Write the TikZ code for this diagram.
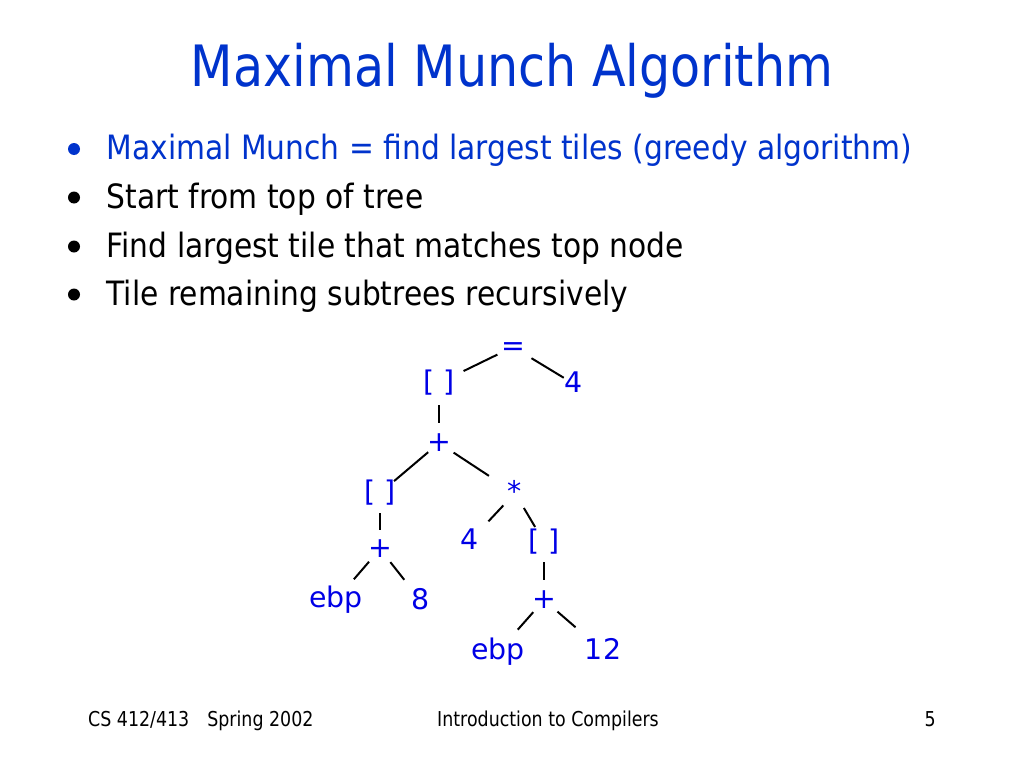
\documentclass[tikz,border=0pt]{standalone}
\usepackage{fontspec}
\setmainfont{DejaVu Sans}
\newfontfamily\titlefont{DejaVu Sans}[FakeStretch=0.863]
\newfontfamily\bodyfont{DejaVu Sans}[FakeStretch=0.887]
\newfontfamily\footfont{DejaVu Sans}[FakeStretch=0.85]
\newfontfamily\treefont{DejaVu Sans}
\definecolor{titleblue}{RGB}{0,51,204}
\definecolor{treeblue}{RGB}{0,0,230}
\tikzset{
  titletext/.style={anchor=base, inner sep=0pt, text=titleblue, font=\titlefont\fontsize{57}{60}\selectfont},
  bullettext/.style={anchor=base west, inner sep=0pt, font=\bodyfont\fontsize{33.5}{38}\selectfont},
  bulletdot/.style={circle, fill=black, inner sep=0pt, minimum size=12pt},
  foottext/.style={inner sep=0pt, font=\footfont\fontsize{20.5}{24}\selectfont},
  tnode/.style={inner sep=0pt, text=treeblue, font=\treefont\fontsize{28.4}{32}\selectfont, execute at begin node={\vphantom{[}}},
  tedge/.style={draw=black, line width=2pt}
}
\begin{document}
\begin{tikzpicture}[x=1pt, y=-1pt]
\path[use as bounding box, fill=white] (0,0) rectangle (1024,768);

\node[titletext] (title) at (512,86) {Maximal Munch Algorithm};

\node[bulletdot, fill=titleblue] (d1) at (74,149) {};
\node[bulletdot] (d2) at (74,197.5) {};
\node[bulletdot] (d3) at (74,246.5) {};
\node[bulletdot] (d4) at (74,294.5) {};
\node[bullettext, text=titleblue] (b1) at (106.5,159) {Maximal Munch = find largest tiles (greedy algorithm)};
\node[bullettext] (b2) at (106.5,208) {Start from top of tree};
\node[bullettext] (b3) at (106.5,257) {Find largest tile that matches top node};
\node[bullettext] (b4) at (106.5,305) {Tile remaining subtrees recursively};

% tree
\node[tnode] (eq) at (513,347) {=};
\node[tnode] (idxA) at (439,383) {[ ]};
\node[tnode] (fourA) at (574,384) {4};
\node[tnode] (plusA) at (439,443) {+};
\node[tnode] (idxB) at (380,493) {[ ]};
\node[tnode] (star) at (515,493) {*};
\node[tnode] (plusB) at (380,549) {+};
\node[tnode] (fourB) at (470,541) {4};
\node[tnode] (idxC) at (544,542) {[ ]};
\node[tnode] (ebpA) at (336,600) {ebp};
\node[tnode] (eight) at (421,601) {8};
\node[tnode] (plusC) at (544,600) {+};
\node[tnode] (ebpB) at (498,652) {ebp};
\node[tnode] (twelve) at (603,651) {12};

\draw[tedge, shorten <=17.4pt, shorten >=27.3pt] (eq.center) -- (idxA.center);
\draw[tedge, shorten <=21.6pt, shorten >=12pt] (eq.center) -- (fourA.center);
\draw[tedge, shorten <=22pt, shorten >=20pt] (idxA.center) -- (plusA.center);
\draw[tedge, shorten <=14.2pt, shorten >=18.4pt] (plusA.center) -- (idxB.center);
\draw[tedge, shorten <=17.5pt, shorten >=31.2pt] (plusA.center) -- (star.center);
\draw[tedge, shorten <=20pt, shorten >=19pt] (idxB.center) -- (plusB.center);
\draw[tedge, shorten <=17pt, shorten >=26.9pt] (star.center) -- (fourB.center);
\draw[tedge, shorten <=17.4pt, shorten >=17.5pt] (star.center) -- (idxC.center);
\draw[tedge, shorten <=20pt, shorten >=20pt] (idxC.center) -- (plusC.center);
\draw[tedge, shorten <=16.8pt, shorten >=27.4pt] (plusB.center) -- (ebpA.center);
\draw[tedge, shorten <=16.7pt, shorten >=27pt] (plusB.center) -- (eight.center);
\draw[tedge, shorten <=16.2pt, shorten >=29.8pt] (plusC.center) -- (ebpB.center);
\draw[tedge, shorten <=17.8pt, shorten >=36.3pt] (plusC.center) -- (twelve.center);

% footer
\node[foottext, anchor=base west] (f1) at (88,726) {CS 412/413\hspace{18pt}Spring 2002};
\node[foottext, anchor=base] (f2) at (548,726) {Introduction to Compilers};
\node[foottext, anchor=base east] (f3) at (936,726) {5};
\end{tikzpicture}
\end{document}
